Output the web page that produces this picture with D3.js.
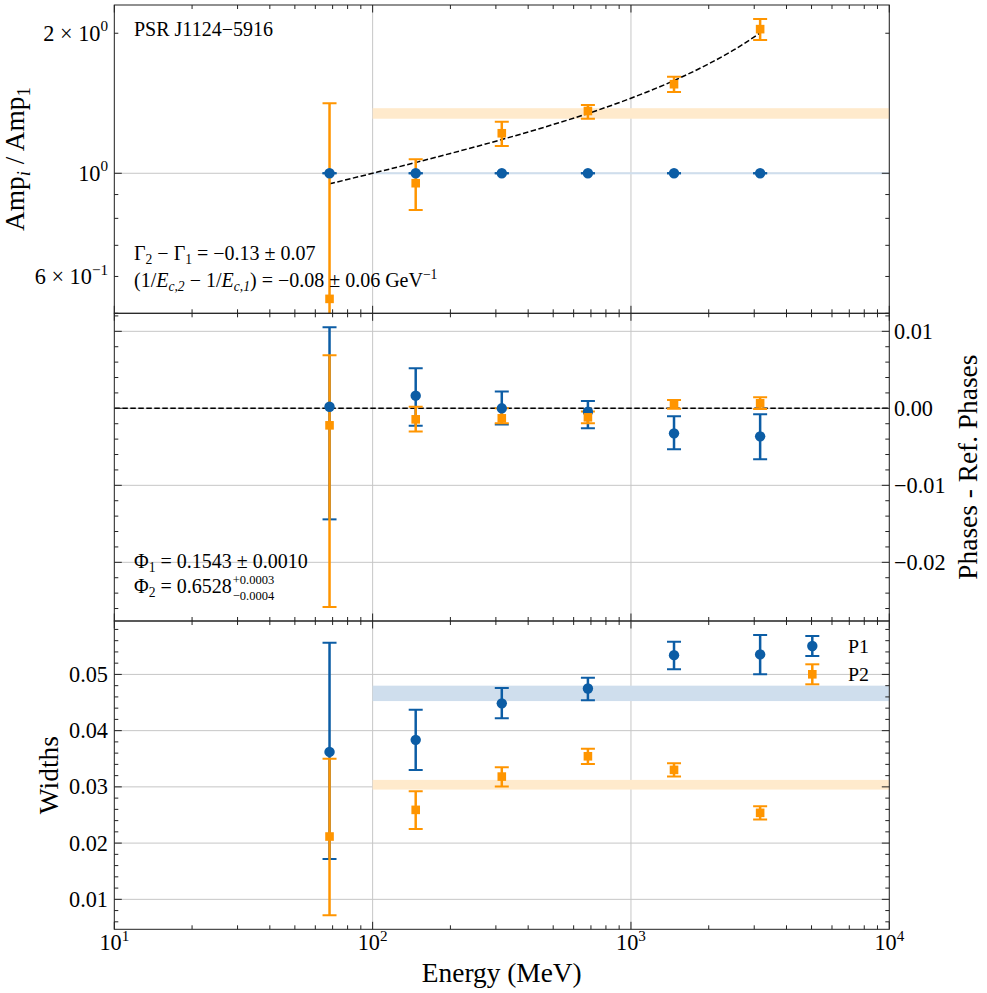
<!DOCTYPE html>
<html><head><meta charset="utf-8">
<script src="https://cdn.jsdelivr.net/npm/d3@7"></script>
<style>
body{margin:0;background:#fff}
svg{display:block}
svg text{font-family:"Liberation Serif","DejaVu Serif","Noto Serif",serif;fill:#000;white-space:pre}
</style>
</head><body>
<svg id="c" width="987" height="993"></svg>
<script>
// ---------------- DATA ----------------
const energies = [68.1, 146.8, 316.2, 681.3, 1467.8, 3162.3];

// Top panel: Amp_i / Amp_1
const ampP1   = [1, 1, 1, 1, 1, 1];
const ampP1Lo = [1, 1, 1, 1, 1, 1];
const ampP1Hi = [1, 1, 1, 1, 1, 1];
const ampP2   = [0.537, 0.952, 1.219, 1.361, 1.554, 2.041];
const ampP2Lo = [0.30, 0.834, 1.145, 1.310, 1.496, 1.935];
const ampP2Hi = [1.414, 1.072, 1.291, 1.402, 1.613, 2.145];
const modelE     = [68.1, 100, 150, 200, 300, 500, 700, 1000, 1500, 2000, 2500, 3162.3];
const modelRatio = [0.949, 1.000, 1.058, 1.103, 1.172, 1.273, 1.351, 1.450, 1.591, 1.719, 1.841, 2.003];
const ampBandP1 = [0.995, 1.005];
const ampBandP2 = [1.310, 1.380];
const bandE = [100, 10000];

// Middle panel: phases - ref. phases
const phaseP1   = [0.0002, 0.00164, 0.0, -0.00044, -0.00325, -0.00364];
const phaseP1Lo = [-0.01442, -0.00226, -0.0021, -0.0026, -0.00532, -0.00662];
const phaseP1Hi = [0.01052, 0.0052, 0.0022, 0.00095, -0.00104, -0.00078];
const phaseP2   = [-0.00221, -0.00143, -0.0013, -0.00117, 0.00052, 0.00065];
const phaseP2Lo = [-0.0258, -0.0030, -0.00195, -0.00195, -0.00005, -0.0001];
const phaseP2Hi = [0.00688, 0.0002, 0.0, -0.0004, 0.00108, 0.00143];

// Bottom panel: widths
const widthP1   = [0.03622, 0.03836, 0.04485, 0.0475, 0.05343, 0.05356];
const widthP1Lo = [0.01716, 0.03302, 0.04219, 0.0454, 0.0509, 0.05005];
const widthP1Hi = [0.05562, 0.04373, 0.04757, 0.0494, 0.0558, 0.0570];
const widthP2   = [0.02117, 0.02591, 0.03183, 0.03544, 0.03302, 0.02538];
const widthP2Lo = [0.00716, 0.02249, 0.03005, 0.03409, 0.03183, 0.02418];
const widthP2Hi = [0.03498, 0.02922, 0.03348, 0.03676, 0.0342, 0.02655];
const widthBandP1 = [0.04526, 0.0480];
const widthBandP2 = [0.02952, 0.03124];

// Tick labels
const xTickValues = [10, 100, 1000, 10000];
const xTickExp = ["1", "2", "3", "4"];
const topTickValues = [0.6, 1, 2];
const topTickMant = ["6 × 10", "10", "2 × 10"];
const topTickExp = ["−1", "0", "0"];
const midTickValues = [-0.02, -0.01, 0, 0.01];
const midTickLabels = ["−0.02", "−0.01", "0.00", "0.01"];
const botTickValues = [0.01, 0.02, 0.03, 0.04, 0.05];
const botTickLabels = ["0.01", "0.02", "0.03", "0.04", "0.05"];

const seriesNames = ["P1", "P2"];
// ---------------- STYLE ----------------
const BLUE = "#0C5DA5", ORANGE = "#FF9500";
const BLUE_BAND = "#cfdeed", ORANGE_BAND = "#ffeacc";
const GRID = "#c6c6c6", SPINE = "#222";
const L = 114.3, R = 889.3;
const P = {top: [5, 313.3], mid: [313.3, 621], bot: [621, 929.3]};

const svg = d3.select("#c");

// size fonts so that text widths match the reference
function fit(str, target, maxSize) {
  const t = svg.append("text").attr("font-size", 100).text(str);
  const w = t.node().getComputedTextLength();
  t.remove();
  return Math.min(maxSize, 100 * target / w);
}
const FS_TICK = fit("0.05", 39, 23);
const FS_LAB = fit("Energy (MeV)", 160, 28);
const FS_ANN = fit("PSR J1124−5916", 149, 20);
const FS_LEG = fit("P1", 21, 20);

const x = d3.scaleLog().domain([10, 1e4]).range([L, R]);
const yTop = d3.scaleLog().domain([0.5, 2.3]).range([P.top[1], P.top[0]]);
const yMid = d3.scaleLinear().domain([-0.02762, 0.01234]).range([P.mid[1], P.mid[0]]);
const yBot = d3.scaleLinear().domain([0.00467, 0.0595]).range([P.bot[1], P.bot[0]]);

const defs = svg.append("defs");
Object.entries(P).forEach(([k, [a, b]]) => {
  defs.append("clipPath").attr("id", "clip-" + k)
    .append("rect").attr("x", L).attr("y", a).attr("width", R - L).attr("height", b - a);
});

// rich text helper: parts = [[string, flags]] flags: i italic, b subscript, p superscript
function rich(g, xx, yy, parts, size, anchor) {
  const t = g.append("text").attr("x", xx).attr("y", yy).attr("font-size", size)
    .attr("text-anchor", anchor || "start");
  let shift = 0;
  parts.forEach(([s, f]) => {
    f = f || "";
    let target = 0, fs = size;
    if (f.includes("b")) { target = size * 0.22; fs = size * 0.68; }
    if (f.includes("p")) { target = -size * 0.42; fs = size * 0.68; }
    const ts = t.append("tspan").text(s).attr("font-size", fs);
    if (target - shift !== 0) ts.attr("dy", target - shift);
    shift = target;
    if (f.includes("i")) ts.attr("font-style", "italic");
  });
  return t;
}

function panel(key, yScale, opts) {
  const [y0, y1] = P[key];
  const g = svg.append("g");
  const gc = g.append("g").attr("clip-path", `url(#clip-${key})`);
  gc.selectAll(".gx").data(xTickValues).join("line")
    .attr("x1", d => x(d)).attr("x2", d => x(d)).attr("y1", y0).attr("y2", y1)
    .attr("stroke", GRID).attr("stroke-width", 1);
  gc.selectAll(".gy").data(opts.gridY).join("line")
    .attr("x1", L).attr("x2", R).attr("y1", d => yScale(d)).attr("y2", d => yScale(d))
    .attr("stroke", GRID).attr("stroke-width", 1);
  (opts.bands || []).forEach(([b, col]) => {
    gc.append("rect").attr("x", x(bandE[0])).attr("width", x(bandE[1]) - x(bandE[0]))
      .attr("y", yScale(b[1])).attr("height", yScale(b[0]) - yScale(b[1])).attr("fill", col);
  });
  return {g, gc, y0, y1};
}

function errorbars(gc, yScale, lo, hi, color) {
  const d = energies.map((e, i) => ({e, lo: lo[i], hi: hi[i]}));
  gc.append("g").selectAll("line").data(d).join("line")
    .attr("x1", d => x(d.e)).attr("x2", d => x(d.e))
    .attr("y1", d => yScale(d.lo)).attr("y2", d => yScale(d.hi))
    .attr("stroke", color).attr("stroke-width", 2.5);
  const caps = d.flatMap(p => [{e: p.e, v: p.lo}, {e: p.e, v: p.hi}]);
  gc.append("g").selectAll("line").data(caps).join("line")
    .attr("x1", d => x(d.e) - 7).attr("x2", d => x(d.e) + 7)
    .attr("y1", d => yScale(d.v)).attr("y2", d => yScale(d.v))
    .attr("stroke", color).attr("stroke-width", 2);
}
function markers(gc, yScale, vals, color, shape) {
  const d = energies.map((e, i) => ({e, v: vals[i]}));
  if (shape === "circle") {
    gc.append("g").selectAll("circle").data(d).join("circle")
      .attr("cx", d => x(d.e)).attr("cy", d => yScale(d.v)).attr("r", 5.2).attr("fill", color);
  } else {
    gc.append("g").selectAll("rect").data(d).join("rect")
      .attr("x", d => x(d.e) - 4.3).attr("y", d => yScale(d.v) - 4.3)
      .attr("width", 8.6).attr("height", 8.6).attr("fill", color);
  }
}

function frame(g, yScale, y0, y1, yMajor, yMinor) {
  const majX = xTickValues;
  const minX = x.ticks().filter(v => !majX.includes(v));
  const tk = g.append("g").attr("stroke", SPINE).attr("stroke-width", 1);
  [[y0, 1], [y1, -1]].forEach(([yy, s]) => {
    tk.selectAll(null).data(majX).join("line").attr("x1", d => x(d)).attr("x2", d => x(d))
      .attr("y1", yy).attr("y2", yy + s * 7.5);
    tk.selectAll(null).data(minX).join("line").attr("x1", d => x(d)).attr("x2", d => x(d))
      .attr("y1", yy).attr("y2", yy + s * 4);
  });
  [[L, 1], [R, -1]].forEach(([xx, s]) => {
    tk.selectAll(null).data(yMajor).join("line").attr("y1", d => yScale(d)).attr("y2", d => yScale(d))
      .attr("x1", xx).attr("x2", xx + s * 7.5);
    tk.selectAll(null).data(yMinor).join("line").attr("y1", d => yScale(d)).attr("y2", d => yScale(d))
      .attr("x1", xx).attr("x2", xx + s * 4);
  });
  g.append("rect").attr("x", L).attr("y", y0).attr("width", R - L).attr("height", y1 - y0)
    .attr("fill", "none").attr("stroke", SPINE).attr("stroke-width", 1);
}

// ---------- TOP PANEL ----------
{
  const {g, gc, y0, y1} = panel("top", yTop, {gridY: [1], bands: [[ampBandP1, BLUE_BAND], [ampBandP2, ORANGE_BAND]]});
  const line = d3.line().x(d => x(d[0])).y(d => yTop(d[1])).curve(d3.curveMonotoneX);
  gc.append("path").attr("d", line(modelE.map((e, i) => [e, modelRatio[i]])))
    .attr("fill", "none").attr("stroke", "#000").attr("stroke-width", 1.5).attr("stroke-dasharray", "5.5,2.5");
  errorbars(gc, yTop, ampP1Lo, ampP1Hi, BLUE);
  errorbars(gc, yTop, ampP2Lo, ampP2Hi, ORANGE);
  markers(gc, yTop, ampP1, BLUE, "circle");
  markers(gc, yTop, ampP2, ORANGE, "square");
  const all = yTop.ticks();
  frame(g, yTop, y0, y1, [1], all.filter(v => v !== 1));
  topTickValues.forEach((v, i) => {
    rich(g, 108, yTop(v) + 7.5, [[topTickMant[i], ""], [topTickExp[i], "p"]], FS_TICK, "end");
  });
  rich(g, 134, 36, [["PSR J1124−5916", ""]], FS_ANN);
  rich(g, 134, 260, [["Γ", ""], ["2", "b"], [" − Γ", ""], ["1", "b"], [" = −0.13 ± 0.07", ""]], FS_ANN);
  rich(g, 134, 287, [["(1/", ""], ["E", "i"], ["c,2", "ib"], [" − 1/", ""], ["E", "i"], ["c,1", "ib"],
    [") = −0.08 ± 0.06 GeV", ""], ["−1", "p"]], FS_ANN);
  const t = rich(g, 0, 0, [["Amp", ""], ["i", "ib"], [" / Amp", ""], ["1", "b"]], FS_LAB, "middle");
  t.attr("transform", `translate(24,${(y0 + y1) / 2}) rotate(-90)`);
}

// ---------- MIDDLE PANEL ----------
{
  const {g, gc, y0, y1} = panel("mid", yMid, {gridY: midTickValues});
  gc.append("line").attr("x1", L).attr("x2", R).attr("y1", yMid(0)).attr("y2", yMid(0))
    .attr("stroke", "#000").attr("stroke-width", 1.5).attr("stroke-dasharray", "5.5,2.5");
  errorbars(gc, yMid, phaseP1Lo, phaseP1Hi, BLUE);
  errorbars(gc, yMid, phaseP2Lo, phaseP2Hi, ORANGE);
  markers(gc, yMid, phaseP1, BLUE, "circle");
  markers(gc, yMid, phaseP2, ORANGE, "square");
  const minor = yMid.ticks(20).filter(v => !midTickValues.some(m => Math.abs(m - v) < 1e-9));
  frame(g, yMid, y0, y1, midTickValues, minor);
  midTickValues.forEach((v, i) => {
    g.append("text").attr("x", 894).attr("y", yMid(v) + 7.5).attr("font-size", FS_TICK).text(midTickLabels[i]);
  });
  rich(g, 134, 568, [["Φ", ""], ["1", "b"], [" = 0.1543 ± 0.0010", ""]], FS_ANN);
  const t2 = rich(g, 134, 593, [["Φ", ""], ["2", "b"], [" = 0.6528", ""]], FS_ANN);
  const w = t2.node().getComputedTextLength();
  g.append("text").attr("x", 134 + w + 1).attr("y", 584).attr("font-size", 12.5).text("+0.0003");
  g.append("text").attr("x", 134 + w + 1).attr("y", 600).attr("font-size", 12.5).text("−0.0004");
  g.append("text").attr("font-size", FS_LAB).attr("text-anchor", "middle")
    .attr("transform", `translate(977,${(y0 + y1) / 2}) rotate(-90)`).text("Phases - Ref. Phases");
}

// ---------- BOTTOM PANEL ----------
{
  const {g, gc, y0, y1} = panel("bot", yBot, {gridY: botTickValues, bands: [[widthBandP1, BLUE_BAND], [widthBandP2, ORANGE_BAND]]});
  errorbars(gc, yBot, widthP1Lo, widthP1Hi, BLUE);
  errorbars(gc, yBot, widthP2Lo, widthP2Hi, ORANGE);
  markers(gc, yBot, widthP1, BLUE, "circle");
  markers(gc, yBot, widthP2, ORANGE, "square");
  const minor = yBot.ticks(27).filter(v => !botTickValues.some(m => Math.abs(m - v) < 1e-9));
  frame(g, yBot, y0, y1, botTickValues, minor);
  botTickValues.forEach((v, i) => {
    g.append("text").attr("x", 108).attr("y", yBot(v) + 7.5).attr("font-size", FS_TICK)
      .attr("text-anchor", "end").text(botTickLabels[i]);
  });
  xTickValues.forEach((v, i) => {
    rich(g, x(v), 950, [["10", ""], [xTickExp[i], "p"]], FS_TICK, "middle");
  });
  g.append("text").attr("x", (L + R) / 2).attr("y", 982).attr("font-size", FS_LAB)
    .attr("text-anchor", "middle").text("Energy (MeV)");
  g.append("text").attr("font-size", FS_LAB).attr("text-anchor", "middle")
    .attr("transform", `translate(58,${(y0 + y1) / 2}) rotate(-90)`).text("Widths");
  // legend
  const leg = g.append("g");
  [[BLUE, "circle"], [ORANGE, "square"]].forEach(([col, sh], i) => {
    const cy = 646 + i * 28.3, cx = 812.3;
    leg.append("line").attr("x1", cx).attr("x2", cx).attr("y1", cy - 10).attr("y2", cy + 10)
      .attr("stroke", col).attr("stroke-width", 2.5);
    [-10, 10].forEach(o => leg.append("line").attr("x1", cx - 7).attr("x2", cx + 7)
      .attr("y1", cy + o).attr("y2", cy + o).attr("stroke", col).attr("stroke-width", 2));
    if (sh === "circle") leg.append("circle").attr("cx", cx).attr("cy", cy).attr("r", 5.2).attr("fill", col);
    else leg.append("rect").attr("x", cx - 4.3).attr("y", cy - 4.3).attr("width", 8.6).attr("height", 8.6).attr("fill", col);
    leg.append("text").attr("x", 848).attr("y", cy + 6.5).attr("font-size", FS_LEG).text(seriesNames[i]);
  });
}
</script>
</body></html>
